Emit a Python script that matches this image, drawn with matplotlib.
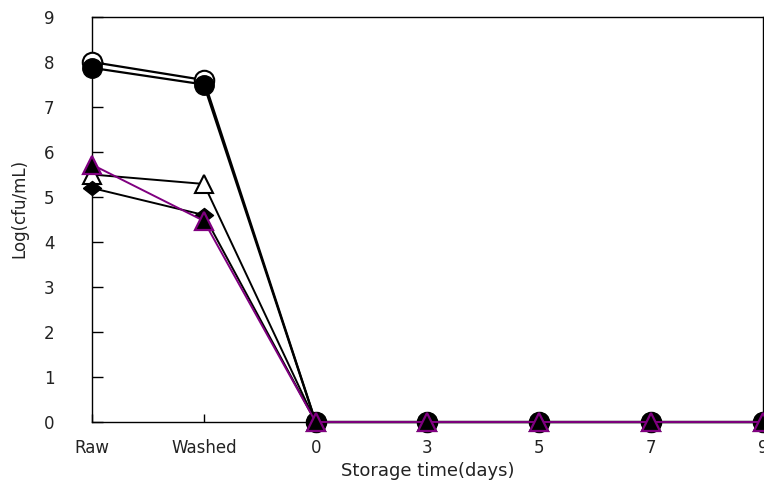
import matplotlib
matplotlib.use("Agg")
import matplotlib.pyplot as plt

# Sampling stages and measured counts (log cfu/mL)
stages = ["Raw", "Washed", "0", "3", "5", "7", "9"]
open_circle = [8.0, 7.6, 0, 0, 0, 0, 0]
filled_circle = [7.87, 7.5, 0, 0, 0, 0, 0]
open_triangle = [5.5, 5.29, 0, 0, 0, 0, 0]
filled_diamond = [5.2, 4.6, 0, 0, 0, 0, 0]
purple_triangle = [5.72, 4.47, 0, 0, 0, 0, 0]
y_ticks = [0, 1, 2, 3, 4, 5, 6, 7, 8, 9]

plt.rcParams["font.family"] = ["DejaVu Sans"]

fig = plt.figure(figsize=(7.64, 4.86), dpi=100)
ax = fig.add_axes([0.1204, 0.1317, 0.8783, 0.8333])

wide_diamond = [(-1, 0), (0, 0.78), (1, 0), (0, -0.78), (-1, 0)]

x = list(range(len(stages)))
ax.plot(x, open_circle, color="black", lw=1.6, marker="o", ms=14,
        mfc="white", mec="black", mew=1.5, clip_on=False, zorder=3)
ax.plot(x, filled_circle, color="black", lw=1.6, marker="o", ms=14,
        mfc="black", mec="black", clip_on=False, zorder=4)
ax.plot(x, open_triangle, color="black", lw=1.4, marker="^", ms=13,
        mfc="white", mec="black", mew=1.5, clip_on=False, zorder=5)
ax.plot(x, filled_diamond, color="black", lw=1.4, marker=wide_diamond, ms=13,
        mfc="black", mec="black", clip_on=False, zorder=6)
ax.plot(x, purple_triangle, color="#800080", lw=1.4, marker="^", ms=13,
        mfc="black", mec="#800080", mew=1.6, clip_on=False, zorder=7)

ax.set_xlim(0, len(stages) - 1)
ax.set_ylim(0, 9)
ax.set_xticks(x)
ax.set_xticklabels(stages, fontsize=12, color="#222222")
ax.set_yticks(y_ticks)
ax.set_yticklabels([str(t) for t in y_ticks], fontsize=12, color="#222222")
ax.tick_params(axis="x", direction="in", length=6, width=1, pad=12)
ax.tick_params(axis="y", direction="in", length=8, width=1, pad=27)

for s in ax.spines.values():
    s.set_linewidth(1.0)
    s.set_color("black")

ax.set_xlabel("Storage time(days)", fontsize=13, labelpad=4, color="#222222")
fig.text(19 / 764, 1 - 208 / 486, "Log(cfu/mL)", rotation=90, fontsize=12,
         color="#222222", ha="center", va="center")

fig.savefig("out.png", dpi=100)
